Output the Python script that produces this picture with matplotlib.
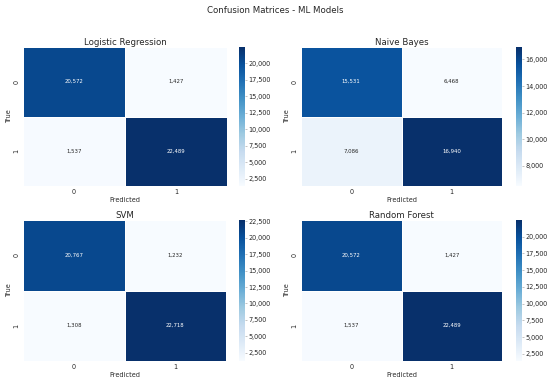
import matplotlib
matplotlib.use('Agg')
import matplotlib.pyplot as plt
import seaborn as sns
import numpy as np

model_names = ['Logistic Regression', 'Naive Bayes', 'SVM', 'Random Forest']
cm_logreg = [[20572, 1427], [1537, 22489]]
cm_nb = [[15531, 6468], [7086, 16940]]
cm_svm = [[20767, 1232], [1308, 22718]]
cm_rf = [[20572, 1427], [1537, 22489]]
class_labels = ['0', '1']

sns.set_style('whitegrid')
plt.rcParams['text.color'] = '.15'

W, H = 550, 382
DPI = 52
fig = plt.figure(figsize=(W / DPI, H / DPI), dpi=DPI)
fig.suptitle('Confusion Matrices - ML Models', fontsize=12, y=0.985)


def px_axes(x0, x1, y0, y1):
    # pixel box (top-left origin) -> figure axes
    return fig.add_axes([x0 / W, 1 - y1 / H, (x1 - x0) / W, (y1 - y0) / H])


# heatmap x-range, colorbar x-range, y-range
boxes = [
    ((23, 227), (239, 245), (47, 186)),
    ((301, 502), (516, 522), (47, 186)),
    ((23, 226), (239, 245), (220, 361)),
    ((301, 502), (516, 522), (220, 361)),
]

for (hx, cx, yy), name, cm in zip(boxes, model_names, [cm_logreg, cm_nb, cm_svm, cm_rf]):
    ax = px_axes(hx[0], hx[1], yy[0], yy[1])
    cax = px_axes(cx[0], cx[1], yy[0], yy[1])
    sns.heatmap(np.array(cm), annot=True, fmt=',', cmap='Blues', ax=ax, cbar_ax=cax,
                linewidths=1, linecolor='white',
                xticklabels=class_labels, yticklabels=class_labels,
                annot_kws={'size': 7.5})
    ax.set_title(name, fontsize=12, pad=3)
    ax.set_xlabel('Predicted', fontsize=9, labelpad=2)
    ax.set_ylabel('True', fontsize=9, labelpad=2)
    ax.tick_params(labelsize=9, length=3, width=0.8, color='.6', pad=1.5)
    plt.setp(ax.get_yticklabels(), rotation=90, va='center')
    cax.tick_params(labelsize=9, length=3, width=0.8, color='.6', pad=1.5)
    cax.yaxis.set_major_formatter(matplotlib.ticker.StrMethodFormatter('{x:,.0f}'))

plt.savefig('out.png', dpi=DPI)
plt.close()
